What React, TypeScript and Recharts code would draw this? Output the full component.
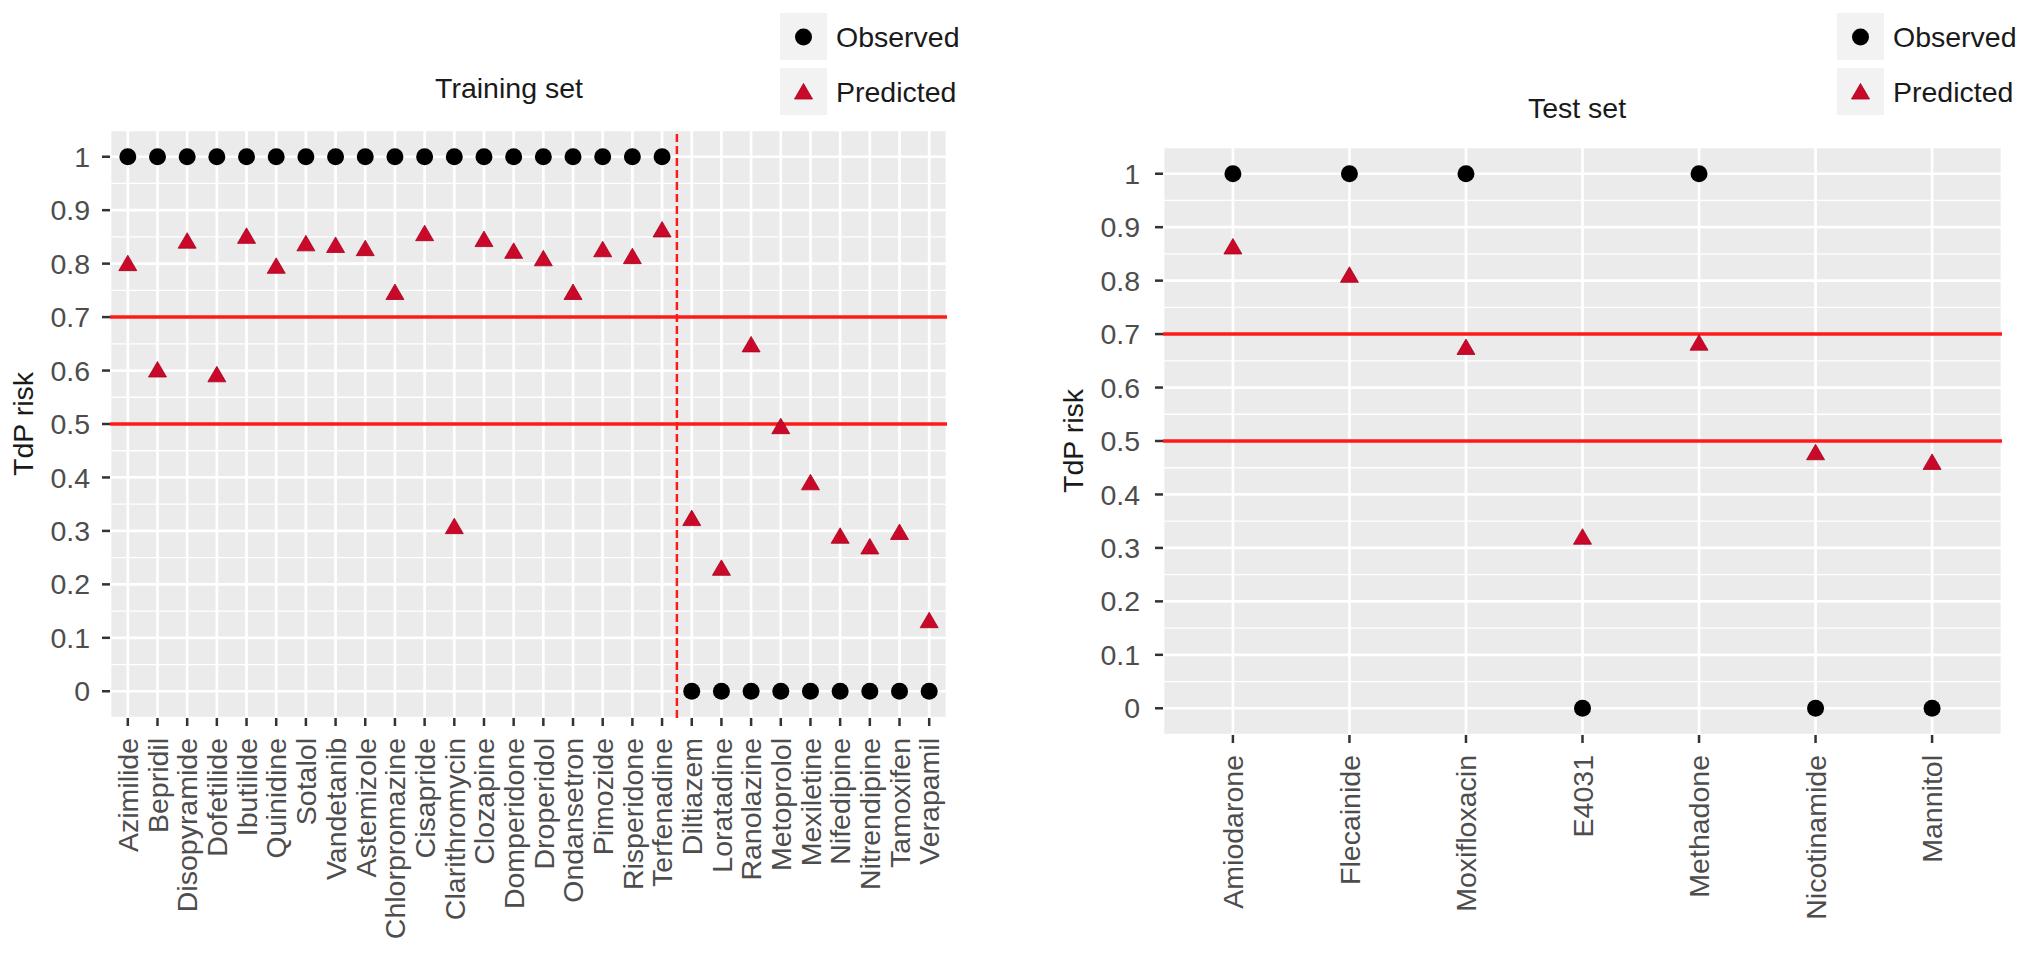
import { ScatterChart, Scatter, XAxis, YAxis, CartesianGrid, ReferenceLine } from "recharts";

// training set: known-risk drugs first, then the no-risk ones
const trainDrugs = [
  "Azimilide", "Bepridil", "Disopyramide", "Dofetilide", "Ibutilide", "Quinidine", "Sotalol",
  "Vandetanib", "Astemizole", "Chlorpromazine", "Cisapride", "Clarithromycin", "Clozapine",
  "Domperidone", "Droperidol", "Ondansetron", "Pimozide", "Risperidone", "Terfenadine",
  "Diltiazem", "Loratadine", "Ranolazine", "Metoprolol", "Mexiletine", "Nifedipine",
  "Nitrendipine", "Tamoxifen", "Verapamil",
];
const trainObserved = [1, 1, 1, 1, 1, 1, 1, 1, 1, 1, 1, 1, 1, 1, 1, 1, 1, 1, 1, 0, 0, 0, 0, 0, 0, 0, 0, 0];
const trainPredicted = [
  0.8, 0.601, 0.842, 0.592, 0.851, 0.795, 0.837, 0.834, 0.828, 0.746, 0.856, 0.308, 0.845,
  0.823, 0.809, 0.746, 0.826, 0.813, 0.863, 0.323, 0.23, 0.648, 0.495, 0.39, 0.29, 0.27, 0.297, 0.132,
];

const testDrugs = ["Amiodarone", "Flecainide", "Moxifloxacin", "E4031", "Methadone", "Nicotinamide", "Mannitol"];
const testObserved = [1, 1, 1, 0, 1, 0, 0];
const testPredicted = [0.863, 0.81, 0.675, 0.32, 0.683, 0.478, 0.46];

const riskTicks = [0, 0.1, 0.2, 0.3, 0.4, 0.5, 0.6, 0.7, 0.8, 0.9, 1];
const minorTicks = [0.05, 0.15, 0.25, 0.35, 0.45, 0.55, 0.65, 0.75, 0.85, 0.95];
const thresholds = [0.5, 0.7];

const FONT = '"Liberation Sans", Arial, Helvetica, sans-serif';
const FS = 28.5;
const TRI = "#C9082A";
const LINE_RED = "#FF1A1A";

function Dot(props: any) {
  return <circle cx={props.cx} cy={props.cy} r={8.5} fill="#000" />;
}

function Tri(props: any) {
  const { cx, cy } = props;
  return <path d={`M${cx},${cy - 8.5}L${cx + 9},${cy + 7}L${cx - 9},${cy + 7}Z`} fill={TRI} stroke="#A8001C" strokeWidth={0.8} />;
}

function DrugTick(props: any) {
  const { x, y, payload, names } = props;
  return (
    <g transform={`translate(${x},${y})`}>
      <text transform="rotate(-90)" textAnchor="end" dy="0.36em" fill="#4D4D4D" fontSize={FS} fontFamily={FONT}>
        {names[payload.value]}
      </text>
    </g>
  );
}

function RiskPanel({ names, observed, predicted, width, margin, yTickMargin, xAxisHeight, split }: any) {
  const idx = names.map((_: string, i: number) => i);
  const obsData = names.map((_: string, i: number) => ({ x: i, risk: observed[i] }));
  const predData = names.map((_: string, i: number) => ({ x: i, risk: predicted[i] }));
  return (
    <ScatterChart width={width} height={953} margin={margin}>
      <CartesianGrid fill="#EBEBEB" stroke="#FFFFFF" strokeWidth={1.3} vertical={false} horizontalValues={minorTicks} />
      <CartesianGrid stroke="#FFFFFF" strokeWidth={2.7} />
      <XAxis
        type="number"
        dataKey="x"
        domain={[-0.6, names.length - 0.4]}
        ticks={idx}
        interval={0}
        height={xAxisHeight}
        axisLine={false}
        tickLine={{ stroke: "#333", strokeWidth: 2.5 }}
        tickSize={8}
        tickMargin={12}
        tick={<DrugTick names={names} />}
      />
      <YAxis
        type="number"
        dataKey="risk"
        domain={[-0.05, 1.05]}
        ticks={riskTicks}
        interval={0}
        width={80}
        axisLine={false}
        tickLine={{ stroke: "#333", strokeWidth: 2.5 }}
        tickSize={8}
        tickMargin={yTickMargin}
        tick={{ fill: "#4D4D4D", fontSize: FS, fontFamily: FONT }}
      />
      {thresholds.map((t) => (
        <ReferenceLine key={t} y={t} stroke={LINE_RED} strokeWidth={3.5} />
      ))}
      {split != null && <ReferenceLine x={split} stroke={LINE_RED} strokeWidth={2.5} strokeDasharray="8 4" />}
      <Scatter name="Observed" data={obsData} shape={Dot} isAnimationActive={false} />
      <Scatter name="Predicted" data={predData} shape={Tri} isAnimationActive={false} />
    </ScatterChart>
  );
}

function LegendBox({ x }: { x: number }) {
  return (
    <g>
      <rect x={x} y={13} width={47} height={47} fill="#F2F2F2" />
      <rect x={x} y={68} width={47} height={47} fill="#F2F2F2" />
      <Dot cx={x + 23.5} cy={37} />
      <Tri cx={x + 23.5} cy={92} />
      <text x={x + 56} y={37} dominantBaseline="central" fontSize={FS} fontFamily={FONT} fill="#1A1A1A">Observed</text>
      <text x={x + 56} y={92} dominantBaseline="central" fontSize={FS} fontFamily={FONT} fill="#1A1A1A">Predicted</text>
    </g>
  );
}

export default function App() {
  const split = trainObserved.filter((v) => v === 1).length - 0.5;
  return (
    <div style={{ position: "absolute", left: 0, top: 0, width: 2032, height: 953, background: "#fff" }}>
      <div style={{ position: "absolute", left: 0, top: 0 }}>
        <RiskPanel
          names={trainDrugs}
          observed={trainObserved}
          predicted={trainPredicted}
          width={1000}
          margin={{ top: 130, right: 53, bottom: 15, left: 30 }}
          yTickMargin={12}
          xAxisHeight={220}
          split={split}
        />
      </div>
      <div style={{ position: "absolute", left: 1030, top: 0 }}>
        <RiskPanel
          names={testDrugs}
          observed={testObserved}
          predicted={testPredicted}
          width={1002}
          margin={{ top: 147, right: 30, bottom: 18, left: 53 }}
          yTickMargin={15}
          xAxisHeight={200}
        />
      </div>
      <svg width={2032} height={953} style={{ position: "absolute", left: 0, top: 0, pointerEvents: "none" }}>
        <text x={509} y={88} textAnchor="middle" dominantBaseline="central" fontSize={FS} fontFamily={FONT} fill="#1A1A1A">Training set</text>
        <text x={1577} y={108} textAnchor="middle" dominantBaseline="central" fontSize={FS} fontFamily={FONT} fill="#1A1A1A">Test set</text>
        <text transform="translate(23,424) rotate(-90)" textAnchor="middle" dominantBaseline="central" fontSize={FS} fontFamily={FONT} fill="#1A1A1A">TdP risk</text>
        <text transform="translate(1073,441) rotate(-90)" textAnchor="middle" dominantBaseline="central" fontSize={FS} fontFamily={FONT} fill="#1A1A1A">TdP risk</text>
        <LegendBox x={780} />
        <LegendBox x={1837} />
      </svg>
    </div>
  );
}
